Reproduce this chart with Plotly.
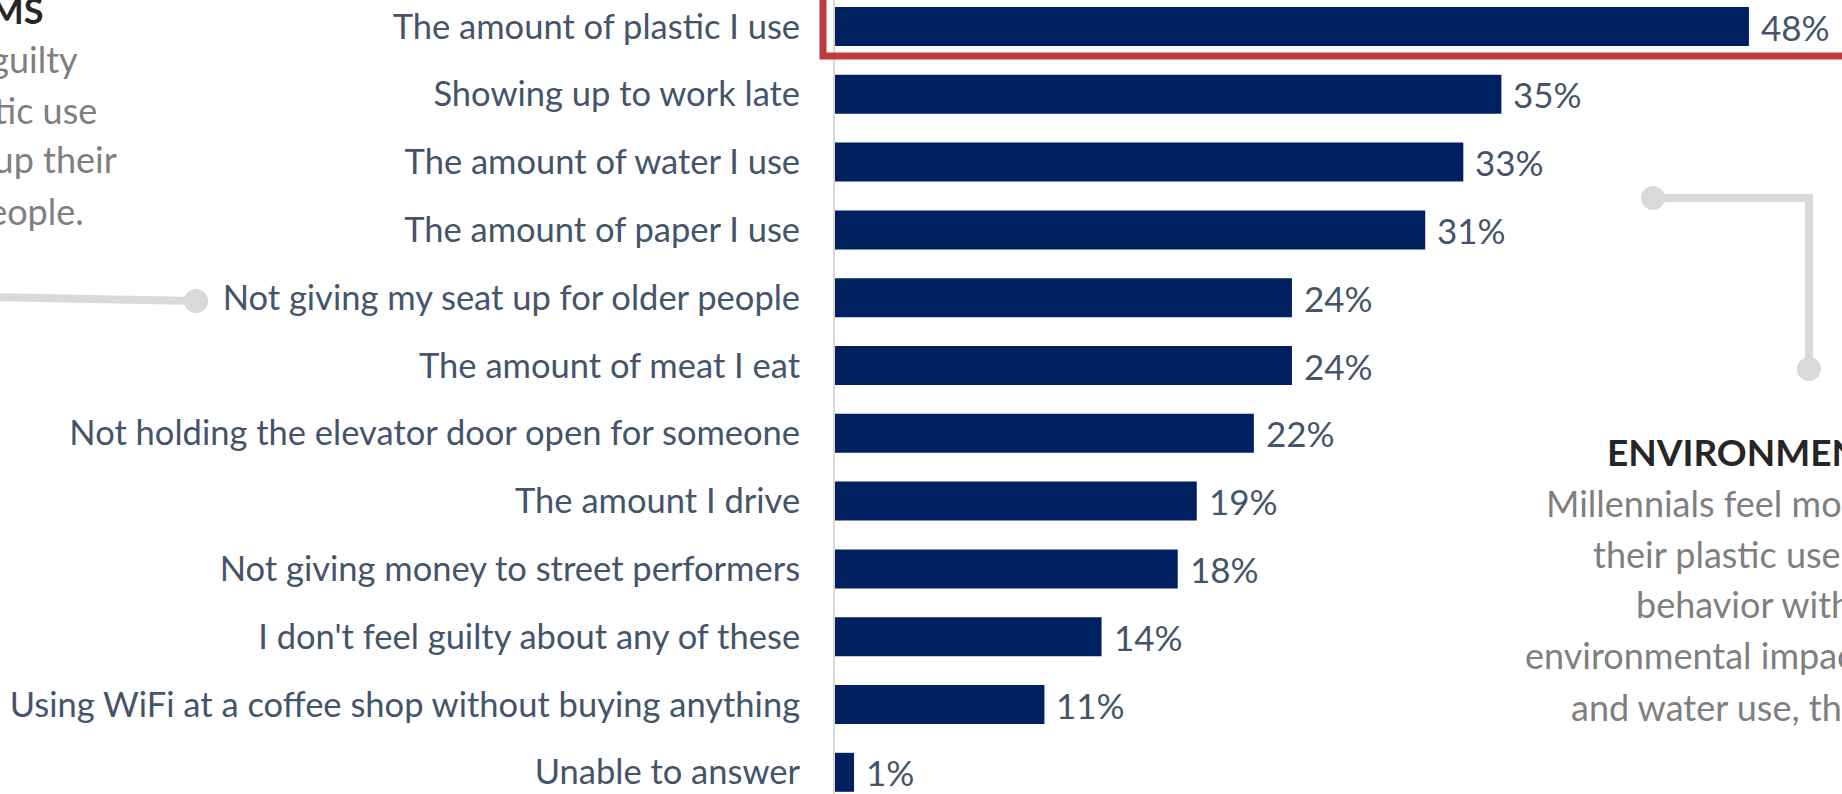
import plotly.graph_objects as go

# Survey answers, top to bottom
categories = [
    "The amount of plastic I use",
    "Showing up to work late",
    "The amount of water I use",
    "The amount of paper I use",
    "Not giving my seat up for older people",
    "The amount of meat I eat",
    "Not holding the elevator door open for someone",
    "The amount I drive",
    "Not giving money to street performers",
    "I don't feel guilty about any of these",
    "Using WiFi at a coffee shop without buying anything",
    "Unable to answer",
]
values = [48, 35, 33, 31, 24, 24, 22, 19, 18, 14, 11, 1]
value_labels = [f"{v}%" for v in values]

left_title = "SOCIAL NORMS"
left_lines = [
    "Millennials feel as guilty",
    "about their plastic use",
    "as not giving up their",
    "seat for older people.",
]
right_title = "ENVIRONMENTAL"
right_lines = [
    "Millennials feel more guilty",
    "their plastic use than",
    "behavior with an",
    "environmental impact, like paper",
    "and water use, their",
]

W, H = 1842, 794
ML = 835  # left edge of the plot area in pixels

NAVY = "#002060"
LABEL = "#44546A"
GREY_TXT = "#7F7F7F"
DARK = "#262626"
CONNECT = "#D9D9D9"
RED = "#BE3A3C"
FONT = "Lato"


def px(x):
    return (x - ML) / (W - ML)


def py(y):
    return 1 - y / H


positions = list(range(len(categories)))

fig = go.Figure(
    go.Bar(
        x=values,
        y=positions,
        orientation="h",
        marker=dict(color=NAVY, line=dict(width=0)),
        hoverinfo="skip",
    )
)

# value labels just past each bar end
annotations = []
for v, p, t in zip(values, positions, value_labels):
    annotations.append(dict(
        x=v, y=p, xref="x", yref="y", text=t, showarrow=False,
        xanchor="left", yanchor="middle", xshift=10,
        font=dict(family=FONT, size=35, color=LABEL),
    ))

# left callout block (right aligned, running off the left edge)
annotations.append(dict(
    x=px(45), y=py(22 - 12), xref="paper", yref="paper", text=f"<b>{left_title}</b>",
    showarrow=False, xanchor="right", yanchor="middle",
    font=dict(family=FONT, size=36, color=DARK),
))
for t, xe, yb in zip(left_lines, [80, 99, 119, 86], [70, 121, 170, 222]):
    annotations.append(dict(
        x=px(xe), y=py(yb - 11), xref="paper", yref="paper", text=t,
        showarrow=False, xanchor="right", yanchor="middle",
        font=dict(family=FONT, size=36, color=GREY_TXT),
    ))

# right callout block (running off the right edge)
annotations.append(dict(
    x=px(1605), y=py(463 - 12), xref="paper", yref="paper", text=f"<b>{right_title}</b>",
    showarrow=False, xanchor="left", yanchor="middle",
    font=dict(family=FONT, size=37, color=DARK),
))
for t, xs, yb in zip(right_lines, [1544, 1591, 1634, 1523, 1569], [514, 565, 615, 666, 718]):
    annotations.append(dict(
        x=px(xs), y=py(yb - 11), xref="paper", yref="paper", text=t,
        showarrow=False, xanchor="left", yanchor="middle",
        font=dict(family=FONT, size=36, color=GREY_TXT),
    ))

shapes = [
    # highlight box round the top answer
    dict(type="rect", xref="paper", yref="paper",
         x0=px(823), x1=px(1900), y0=py(56), y1=py(-40),
         line=dict(color=RED, width=7), fillcolor="rgba(0,0,0,0)", layer="above"),
    # left connector
    dict(type="line", xref="paper", yref="paper",
         x0=px(-10), y0=py(297), x1=px(196), y1=py(301),
         line=dict(color=CONNECT, width=8)),
    # right connector (elbow)
    dict(type="path", xref="paper", yref="paper",
         path=f"M {px(1653)},{py(198)} L {px(1809)},{py(198)} L {px(1809)},{py(369)}",
         line=dict(color=CONNECT, width=8)),
]
for cx, cy in [(196, 301), (1653, 198), (1809, 369)]:
    shapes.append(dict(
        type="circle", xref="paper", yref="paper",
        xsizemode="pixel", ysizemode="pixel",
        xanchor=px(cx), yanchor=py(cy), x0=-12, x1=12, y0=-12, y1=12,
        fillcolor=CONNECT, line=dict(width=0),
    ))

n = len(categories)
spacing = 67.8
top_c = 26.5

fig.update_layout(
    width=W, height=H,
    margin=dict(l=ML, r=0, t=0, b=0, pad=0),
    paper_bgcolor="white", plot_bgcolor="white",
    bargap=0.425,
    showlegend=False,
    annotations=annotations,
    shapes=shapes,
    xaxis=dict(range=[0, (W - ML) / 19.04], visible=False, fixedrange=True),
    yaxis=dict(
        range=[(n - 1) + (H - top_c - (n - 1) * spacing) / spacing, -top_c / spacing],
        tickvals=positions, ticktext=categories,
        tickfont=dict(family=FONT, size=34.5, color=LABEL),
        showline=True, linecolor=CONNECT, linewidth=2,
        showgrid=False, zeroline=False, ticks="", ticklabelstandoff=26,
        fixedrange=True,
    ),
)

fig.write_html("out.html", config={"displayModeBar": False})
